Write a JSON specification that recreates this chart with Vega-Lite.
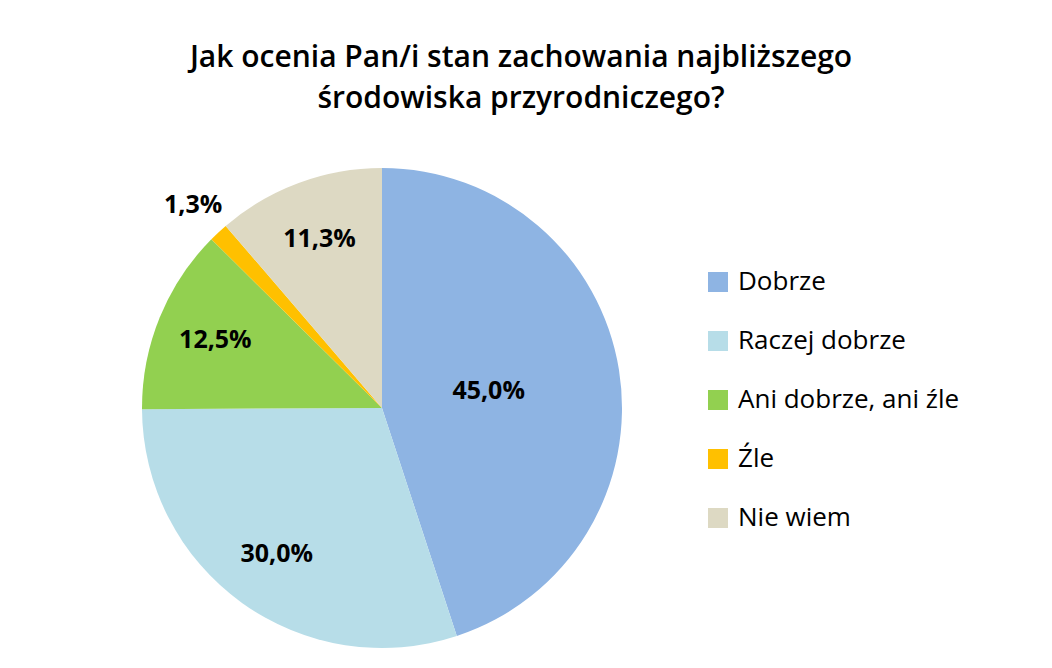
{
  "$schema": "https://vega.github.io/schema/vega-lite/v6.json",
  "width": 764,
  "height": 520,
  "autosize": {"type": "none"},
  "padding": {"left": 0, "top": 148, "right": 288, "bottom": 0},
  "background": "white",
  "config": {"view": {"stroke": null}},
  "title": {
    "text": ["Jak ocenia  Pan/i stan zachowania najbliższego", "środowiska przyrodniczego?"],
    "font": "Open Sans",
    "fontSize": 30,
    "fontWeight": 600,
    "color": "black",
    "anchor": "middle",
    "dx": 139,
    "offset": 22,
    "lineHeight": 41
  },
  "data": {
    "values": [
      {"idx": 1, "cat": "Dobrze", "value": 45.0, "label": "45,0%"},
      {"idx": 2, "cat": "Raczej dobrze", "value": 30.0, "label": "30,0%"},
      {"idx": 3, "cat": "Ani dobrze, ani źle", "value": 12.5, "label": "12,5%"},
      {"idx": 4, "cat": "Źle", "value": 1.3, "label": "1,3%"},
      {"idx": 5, "cat": "Nie wiem", "value": 11.3, "label": "11,3%"}
    ]
  },
  "encoding": {
    "theta": {"field": "value", "type": "quantitative", "stack": true},
    "order": {"field": "idx", "type": "quantitative"}
  },
  "layer": [
    {
      "mark": {"type": "arc", "outerRadius": 240},
      "encoding": {
        "color": {
          "field": "cat",
          "type": "nominal",
          "scale": {
            "domain": ["Dobrze", "Raczej dobrze", "Ani dobrze, ani źle", "Źle", "Nie wiem"],
            "range": ["#8EB4E3", "#B7DDE8", "#92D050", "#FFC000", "#DDD9C3"]
          },
          "legend": {
            "orient": "none",
            "legendX": 705,
            "legendY": 121,
            "title": null,
            "padding": 0,
            "symbolType": "square",
            "symbolSize": 400,
            "symbolStrokeWidth": 0,
            "labelFont": "Open Sans",
            "labelFontSize": 26,
            "labelColor": "black",
            "labelOffset": 7,
            "labelLimit": 0,
            "rowPadding": 33
          }
        }
      }
    },
    {
      "mark": {"type": "text", "radius": 180, "font": "Open Sans", "fontSize": 25, "fontWeight": "bold", "color": "black"},
      "encoding": {
        "detail": {"field": "cat"},
        "text": {"condition": {"test": "datum.cat === 'Raczej dobrze' || datum.cat === 'Ani dobrze, ani źle' || datum.cat === 'Nie wiem'", "field": "label"}, "value": ""}
      }
    },
    {
      "mark": {"type": "text", "radius": 108, "font": "Open Sans", "fontSize": 25, "fontWeight": "bold", "color": "black"},
      "encoding": {
        "detail": {"field": "cat"},
        "text": {"condition": {"test": "datum.cat === 'Dobrze'", "field": "label"}, "value": ""}
      }
    },
    {
      "mark": {"type": "text", "radius": 277, "font": "Open Sans", "fontSize": 25, "fontWeight": "bold", "color": "black"},
      "encoding": {
        "detail": {"field": "cat"},
        "text": {"condition": {"test": "datum.cat === 'Źle'", "field": "label"}, "value": ""}
      }
    }
  ]
}
